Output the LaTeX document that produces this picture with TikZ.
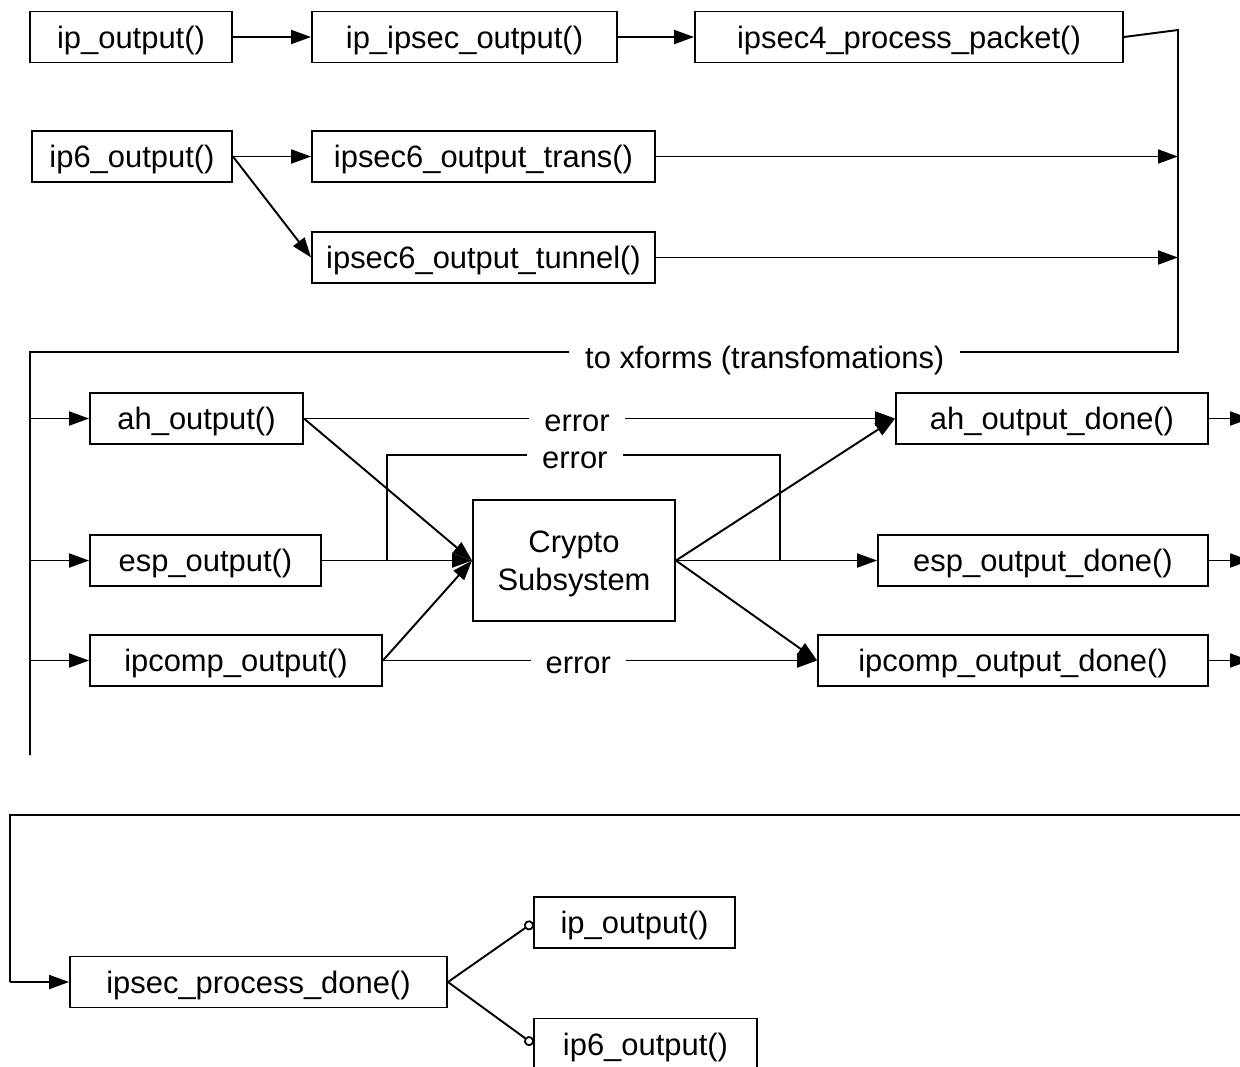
\documentclass[tikz,border=0pt]{standalone}
\usepackage{fontspec}
\setmainfont{Liberation Sans}
\usetikzlibrary{arrows.meta}
\begin{document}
\begin{tikzpicture}[x=0.02cm,y=-0.02cm,
  font=\fontsize{17.6}{21.5}\selectfont,
  box/.style={draw, line width=1.1pt, inner sep=0pt, minimum height=1.02cm, text depth=-2.2pt},
  conn/.style={line width=1.1pt},
  arr/.style={conn, -{Triangle[length=0.4cm,width=0.28cm]}},
  circ/.style={conn, -{Circle[open,length=0.2cm,line width=1pt]}},
  lbl/.style={fill=white, inner xsep=0.3cm, inner ysep=2pt, text depth=0pt, yshift=-0.1cm}]
\useasboundingbox (0,0) rectangle (1240,1066);
% top row
\node[box, minimum width=4.04cm] (ipo) at (131,37) {ip\_output()};
\node[box, minimum width=6.10cm] (ipsec) at (464.5,37) {ip\_ipsec\_output()};
\node[box, minimum width=8.56cm] (p4) at (909,37) {ipsec4\_process\_packet()};
\node[box, minimum width=4.00cm] (ip6) at (132,156.5) {ip6\_output()};
\node[box, minimum width=6.86cm] (trans) at (483.5,156.5) {ipsec6\_output\_trans()};
\node[box, minimum width=6.86cm] (tun) at (483.5,257.5) {ipsec6\_output\_tunnel()};
% middle
\node[box, minimum width=4.26cm] (ah) at (196.5,418.5) {ah\_output()};
\node[box, minimum width=4.62cm] (esp) at (205.5,560.5) {esp\_output()};
\node[box, minimum width=5.84cm] (ipc) at (236,660.5) {ipcomp\_output()};
\node[box, minimum width=4.04cm, minimum height=2.42cm, align=center] (cr) at (574,560.5) {Crypto\\Subsystem};
\node[box, minimum width=6.24cm] (ahd) at (1052,418.5) {ah\_output\_done()};
\node[box, minimum width=6.60cm] (espd) at (1043,560.5) {esp\_output\_done()};
\node[box, minimum width=7.80cm] (ipcd) at (1013,660.5) {ipcomp\_output\_done()};
% bottom
\node[box, minimum width=7.54cm] (pd) at (258.5,982) {ipsec\_process\_done()};
\node[box, minimum width=4.02cm] (bipo) at (634.5,922.5) {ip\_output()};
\node[box, minimum width=4.46cm] (bip6) at (645.5,1044) {ip6\_output()};
% coordinates
\coordinate (r0) at (1178,30);
\coordinate (r1) at (1178,352);
\coordinate (l0) at (30,352);
\coordinate (l1) at (30,755);
\coordinate (la) at (30,418.5);
\coordinate (le) at (30,560.5);
\coordinate (lc) at (30,660.5);
\coordinate (tr) at (1178,156.5);
\coordinate (tu) at (1178,257.5);
\coordinate (e1) at (387,560.5);
\coordinate (e2) at (387,455);
\coordinate (e3) at (780,455);
\coordinate (e4) at (780,560.5);
\coordinate (oa) at (1250,418.5);
\coordinate (oe) at (1250,560.5);
\coordinate (oc) at (1250,660.5);
\coordinate (b0) at (1250,815);
\coordinate (b1) at (10,982);
% top connectors
\draw[arr] (ipo) -- (ipsec);
\draw[arr] (ipsec) -- (p4);
\draw[arr] (ip6.east) -- (trans.west);
\draw[arr] (ip6.east) -- (tun.west);
\draw[arr] (trans.east) -- (tr);
\draw[arr] (tun.east) -- (tu);
\draw[conn] (p4.east) -- (r0) -- (r1) -- node[pos=0.36, lbl, inner xsep=0.32cm]{to xforms (transfomations)} (l0) -- (l1);
\draw[arr] (la) -- (ah.west);
\draw[arr] (le) -- (esp.west);
\draw[arr] (lc) -- (ipc.west);
% middle connectors
\draw[arr] (ah.east) -- node[pos=0.462, lbl]{error} (ahd.west);
\draw[arr] (ah.east) -- (cr.west);
\draw[arr] (esp.east) -- (cr.west);
\draw[arr] (ipc.east) -- (cr.west);
\draw[arr] (ipc.east) -- node[pos=0.45, lbl]{error} (ipcd.west);
\draw[conn] (e1) -- (e2) -- node[pos=0.478, lbl]{error} (e3) -- (e4);
\draw[arr] (cr.east) -- (ahd.west);
\draw[arr] (cr.east) -- (espd.west);
\draw[arr] (cr.east) -- (ipcd.west);
\draw[arr] (ahd.east) -- (oa);
\draw[arr] (espd.east) -- (oe);
\draw[arr] (ipcd.east) -- (oc);
% bottom connectors
\draw[conn] (b0) -| (b1);
\draw[arr] (b1) -- (pd.west);
\draw[circ] (pd.east) -- (bipo.west);
\draw[circ] (pd.east) -- (bip6.west);
\end{tikzpicture}
\end{document}
